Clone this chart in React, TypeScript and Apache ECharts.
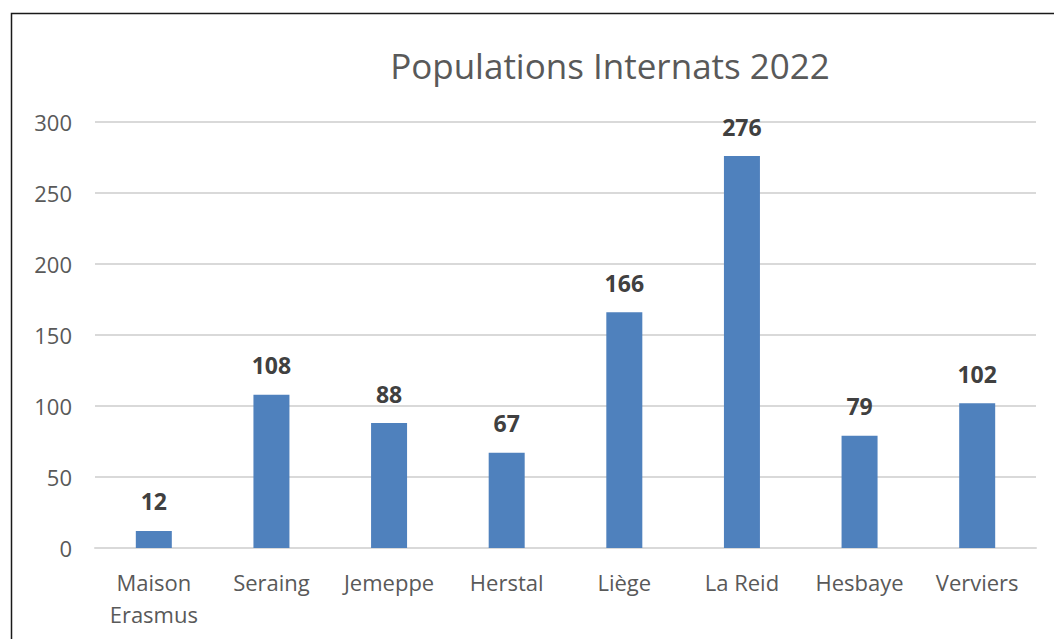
import React, { useEffect, useRef } from "react";
import * as echarts from "echarts";

const categories = ["Maison\nErasmus", "Seraing", "Jemeppe", "Herstal", "Liège", "La Reid", "Hesbaye", "Verviers"];
const values = [12, 108, 88, 67, 166, 276, 79, 102];
const titleText = "Populations Internats 2022";

export default function App() {
  const ref = useRef<HTMLDivElement>(null);
  useEffect(() => {
    document.body.style.margin = "0";
    const chart = echarts.init(ref.current!, null, { renderer: "svg" });
    const font = "'Open Sans', 'Noto Sans', sans-serif";
    chart.setOption({
      animation: false,
      backgroundColor: "#ffffff",
      title: {
        text: titleText,
        left: 605,
        top: 43,
        textAlign: "center",
        textStyle: { fontFamily: font, fontSize: 35, fontWeight: "normal", color: "#595959" },
      },
      graphic: [
        {
          type: "rect",
          shape: { x: 11.5, y: 13.5, width: 1100, height: 700 },
          style: { fill: "none", stroke: "#1a1a1a", lineWidth: 1.5 },
          silent: true,
        },
      ],
      grid: { left: 95, right: 18, top: 122, bottom: 91 },
      xAxis: {
        type: "category",
        data: categories,
        axisLine: { show: true, lineStyle: { color: "#d9d9d9", width: 2 } },
        axisTick: { show: false },
        axisLabel: {
          fontFamily: font,
          fontSize: 22,
          color: "#595959",
          margin: 18,
          lineHeight: 32,
          interval: 0,
        },
      },
      yAxis: {
        type: "value",
        min: 0,
        max: 300,
        interval: 50,
        axisLine: { show: false },
        axisTick: { show: false },
        splitLine: { lineStyle: { color: "#d9d9d9", width: 2 } },
        axisLabel: { fontFamily: font, fontSize: 22, color: "#595959", margin: 23 },
      },
      series: [
        {
          type: "bar",
          data: values,
          barWidth: 36,
          itemStyle: { color: "#4f81bd" },
          label: {
            show: true,
            position: "top",
            distance: 18,
            fontFamily: font,
            fontSize: 23,
            fontWeight: "bold",
            color: "#404040",
          },
        },
      ],
    });
    return () => chart.dispose();
  }, []);
  return <div ref={ref} style={{ width: 1054, height: 639 }} />;
}
